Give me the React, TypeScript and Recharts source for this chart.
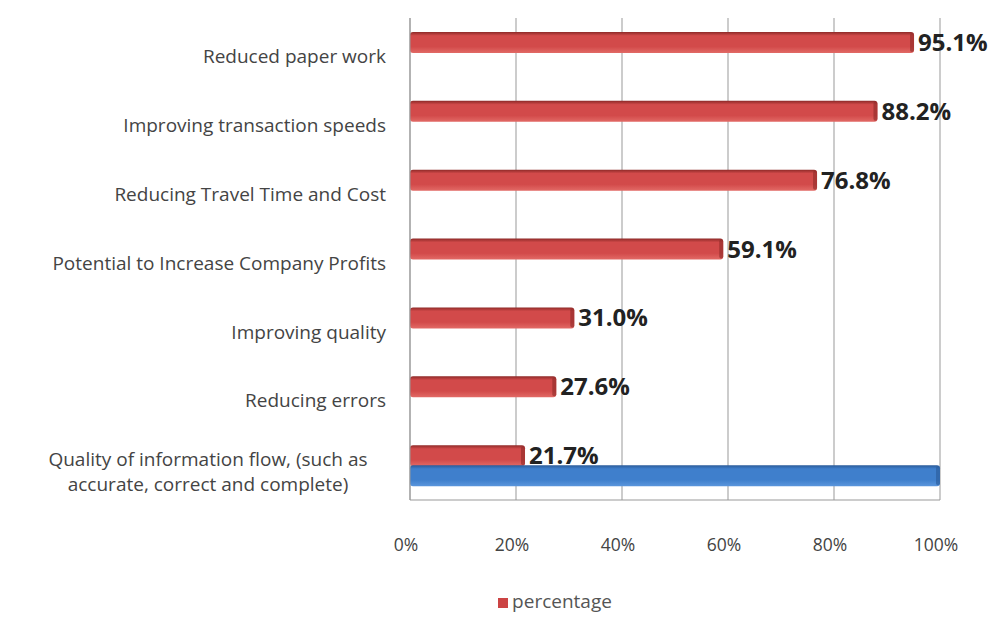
import { BarChart, Bar, XAxis, YAxis, CartesianGrid, Legend, LabelList } from 'recharts'

const categories = [
  'Reduced paper work',
  'Improving transaction speeds',
  'Reducing Travel Time and Cost',
  'Potential to Increase Company Profits',
  'Improving quality',
  'Reducing errors',
  'Quality of information flow, (such as accurate, correct and complete)',
]
const percentage = [95.1, 88.2, 76.8, 59.1, 31.0, 27.6, 21.7]
// second (unlabelled) series, only present on the last row
const other = [null, null, null, null, null, null, 100]
const xTicks = [0, 20, 40, 60, 80, 100]

const data = categories.map((name, i) => ({ name, percentage: percentage[i], other: other[i] }))

const FONT = '"Open Sans", sans-serif'

function wrap(text: string, max: number) {
  const words = text.split(' ')
  const lines: string[] = []
  let cur = ''
  for (const w of words) {
    const next = cur ? cur + ' ' + w : w
    if (next.length > max && cur) {
      lines.push(cur)
      cur = w
    } else cur = next
  }
  if (cur) lines.push(cur)
  return lines
}

function CategoryTick(props: any) {
  const { x, y, payload } = props
  const lines = wrap(payload.value, 40)
  const right = x - 16
  if (lines.length === 1) {
    return (
      <text x={right} y={y + 4} dy="0.35em" textAnchor="end" fontFamily={FONT} fontSize={19} fill="#444">
        {lines[0]}
      </text>
    )
  }
  return (
    <text x={right - 178} y={y + 6 - 12} textAnchor="middle" fontFamily={FONT} fontSize={19} fill="#444">
      {lines.map((l, i) => (
        <tspan key={i} x={right - 178} dy={i === 0 ? '0.35em' : 25}>
          {l}
        </tspan>
      ))}
    </text>
  )
}

function Bar3D(color: string, dark: string, light: string, id: string) {
  return (props: any) => {
    const { x, y, width, height, index } = props
    if (!width || width <= 0) return <g />
    const gid = `${id}-${index}`
    return (
      <g>
        <defs>
          <linearGradient id={gid} x1="0" y1="0" x2="0" y2="1">
            <stop offset="0%" stopColor={dark} />
            <stop offset="18%" stopColor={color} />
            <stop offset="70%" stopColor={color} />
            <stop offset="100%" stopColor={light} />
          </linearGradient>
        </defs>
        <rect x={x} y={y} width={width} height={height} rx={3} ry={3} fill={`url(#${gid})`} />
        <rect x={x + width - 4} y={y + 1} width={4} height={height - 2} rx={2} fill={dark} opacity={0.6} />
      </g>
    )
  }
}

export default function App() {
  return (
    <div style={{ position: 'absolute', left: 0, top: 0, width: 995, height: 623, background: '#fff' }}>
      <BarChart
        width={995}
        height={623}
        data={data}
        layout="vertical"
        margin={{ top: 18, right: 55, left: 0, bottom: 5 }}
        barSize={21}
        barGap={-1}
      >
        <CartesianGrid horizontal={false} stroke="#999" />
        <XAxis
          type="number"
          domain={[0, 100]}
          ticks={xTicks}
          tickFormatter={(v: number) => `${v}%`}
          tick={{ fill: '#444', fontSize: 17.5, fontFamily: FONT, dx: -4 }}
          tickLine={false}
          tickMargin={33}
          axisLine={{ stroke: '#999' }}
          height={88}
        />
        <YAxis
          type="category"
          dataKey="name"
          width={410}
          tick={<CategoryTick />}
          tickLine={false}
          axisLine={{ stroke: '#999' }}
          interval={0}
        />
        <Legend
          height={30}
          verticalAlign="bottom"
          iconSize={10}
          wrapperStyle={{ fontFamily: FONT, fontSize: 19, left: 90 }}
          formatter={(v: string) => <span style={{ color: '#555' }}>{v}</span>}
        />
        <Bar
          dataKey="percentage"
          name="percentage"
          fill="#cc4444"
          legendType="square"
          isAnimationActive={false}
          shape={Bar3D('#d24a4a', '#8e2a28', '#e26a66', 'red')}
        >
          <LabelList
            dataKey="percentage"
            position="right"
            offset={4}
            formatter={(v: number) => `${v.toFixed(1)}%`}
            style={{ fontFamily: FONT, fontWeight: 700, fontSize: 24, fill: '#222' }}
          />
        </Bar>
        <Bar
          dataKey="other"
          fill="#3d7cc9"
          legendType="none"
          isAnimationActive={false}
          shape={Bar3D('#3f7fcc', '#2a5a98', '#5a95dc', 'blue')}
        />
      </BarChart>
    </div>
  )
}
